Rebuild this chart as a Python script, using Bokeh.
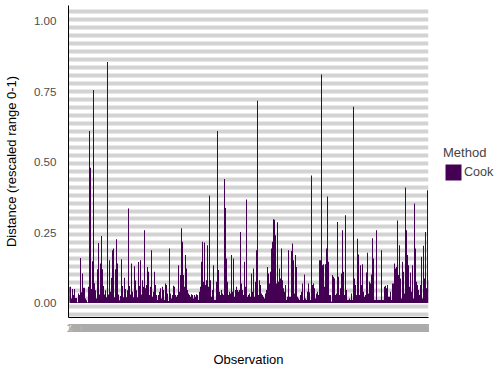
from bokeh.plotting import figure
from bokeh.layouts import row
from bokeh.models import (Range1d, FixedTicker, Legend, LegendItem,
                          ColumnDataSource, NumeralTickFormatter)
from bokeh.embed import file_html
from bokeh.resources import INLINE

# Cook's distance, rescaled to 0-1, one value per observation
cook_distance = [
    0.058, 0.058, 0.016, 0.05, 0.028, 0.05, 0.018, 0.018, 0.003, 0.034,
    0.028, 0.16, 0.038, 0.105, 0.054, 0.054, 0.016, 0.01, 0.003, 0.058,
    0.61, 0.48, 0.05, 0.148, 0.755, 0.07, 0.045, 0.016, 0.12, 0.213,
    0.03, 0.14, 0.238, 0.12, 0.06, 0.03, 0.045, 0.02, 0.855, 0.03,
    0.152, 0.04, 0.09, 0.187, 0.193, 0.02, 0.12, 0.226, 0.14, 0.03,
    0.01, 0.025, 0.155, 0.06, 0.02, 0.09, 0.05, 0.02, 0.045, 0.335,
    0.06, 0.03, 0.14, 0.04, 0.02, 0.13, 0.08, 0.045, 0.02, 0.145,
    0.06, 0.152, 0.03,
    0.081, 0.058, 0.258, 0.052, 0.064, 0.128, 0.111, 0.028, 0.058, 0.187,
    0.022, 0.040, 0.111, 0.064, 0.028, 0.011, 0.028, 0.040, 0.052, 0.016,
    0.058, 0.046, 0.011, 0.069, 0.064, 0.034, 0.007, 0.193, 0.034, 0.016,
    0.028, 0.061, 0.058, 0.028, 0.022, 0.028, 0.134, 0.040, 0.099, 0.265,
    0.217, 0.099, 0.058, 0.170, 0.122, 0.046, 0.034, 0.028, 0.022, 0.031,
    0.028, 0.016, 0.028, 0.022, 0.031, 0.028, 0.011, 0.040, 0.058, 0.146,
    0.217, 0.075, 0.215, 0.064, 0.081, 0.205, 0.058, 0.381, 0.081, 0.022,
    0.046,
    0.134, 0.011, 0.011, 0.075, 0.61, 0.117, 0.040, 0.028, 0.046, 0.034,
    0.028, 0.44, 0.337, 0.158, 0.075, 0.028, 0.040, 0.034, 0.170, 0.040,
    0.158, 0.022, 0.046, 0.058, 0.046, 0.040, 0.046, 0.252, 0.069, 0.046,
    0.028, 0.146, 0.058, 0.367, 0.022, 0.028, 0.034, 0.022, 0.105, 0.040,
    0.122, 0.022, 0.075, 0.187, 0.717, 0.028, 0.081, 0.064, 0.034, 0.028,
    0.022, 0.016, 0.034, 0.046, 0.128, 0.105, 0.069, 0.111, 0.193, 0.217,
    0.297, 0.295, 0.240, 0.069, 0.286, 0.075, 0.122, 0.087, 0.193, 0.081,
    0.052, 0.040,
    0.064, 0.011, 0.022, 0.187, 0.022, 0.022, 0.184, 0.211, 0.152, 0.034,
    0.170, 0.128, 0.022, 0.016, 0.011, 0.028, 0.040, 0.069, 0.011, 0.101,
    0.016, 0.011, 0.040, 0.069, 0.038, 0.011, 0.452, 0.064, 0.069, 0.052,
    0.016, 0.034, 0.040, 0.028, 0.152, 0.152, 0.81, 0.134, 0.137, 0.058,
    0.137, 0.193, 0.378, 0.146, 0.028, 0.028, 0.005, 0.099, 0.093, 0.087,
    0.028, 0.034, 0.287, 0.093, 0.028, 0.052, 0.105, 0.258, 0.111, 0.028,
    0.311, 0.046, 0.011, 0.011, 0.016, 0.011, 0.034, 0.011, 0.696, 0.087,
    0.064, 0.028,
    0.228, 0.172, 0.028, 0.134, 0.064, 0.137, 0.040, 0.022, 0.028, 0.108,
    0.178, 0.034, 0.075, 0.069, 0.101, 0.23, 0.158, 0.011, 0.011, 0.258,
    0.011, 0.011, 0.011, 0.011, 0.187, 0.011, 0.011, 0.058, 0.061, 0.052,
    0.064, 0.022, 0.022, 0.040, 0.011, 0.069, 0.069, 0.140, 0.122, 0.128,
    0.293, 0.099, 0.205, 0.087, 0.016, 0.146, 0.111, 0.034, 0.41, 0.258,
    0.170, 0.134, 0.058, 0.108, 0.040, 0.134, 0.016, 0.353, 0.193, 0.075,
    0.064, 0.046, 0.028, 0.064, 0.164, 0.016, 0.203, 0.087, 0.252, 0.052,
    0.40, 0.081,
]
observation = list(range(1, len(cook_distance) + 1))
y_ticks = [0, 0.25, 0.5, 0.75, 1.0]
method_name = "Cook"
legend_title = "Method"
x_title = "Observation"
y_title = "Distance (rescaled range 0-1)"

FONT = "Liberation Sans"
BAR = "#440154"

p = figure(frame_width=360, frame_height=312,
           output_backend="svg", toolbar_location=None,
           x_range=Range1d(0, len(cook_distance)),
           y_range=Range1d(-0.0514, 1.055),
           min_border_left=68, min_border_right=1,
           min_border_top=5, min_border_bottom=57)
p.outline_line_color = None
p.background_fill_color = "white"

# striped horizontal background bands
stripe_centers = [1.0337 - 0.0283 * k for k in range(39)]
p.xgrid.visible = False
p.ygrid.ticker = FixedTicker(ticks=stripe_centers)
p.ygrid.grid_line_color = "#D3D3D3"
p.ygrid.grid_line_width = 4

# one bar per observation, drawn as a single stepped area (no seams)
src = ColumnDataSource(dict(x=observation, top=cook_distance,
                            base=[0] * len(cook_distance)))
p.varea_step(x="x", y1="base", y2="top", step_mode="center", source=src,
             fill_color=BAR, fill_alpha=1.0)

# y axis
ya = p.yaxis[0]
ya.ticker = FixedTicker(ticks=y_ticks)
ya.formatter = NumeralTickFormatter(format="0.00")
ya.axis_line_color = "black"
ya.axis_line_width = 1
ya.major_tick_line_color = None
ya.minor_tick_line_color = None
ya.major_label_standoff = 6
ya.major_label_text_font = FONT
ya.major_label_text_font_size = "11.6px"
ya.major_label_text_color = "#4D4D4D"
ya.axis_label = y_title
ya.axis_label_text_font = FONT
ya.axis_label_text_font_size = "13px"
ya.axis_label_text_font_style = "normal"
ya.axis_label_text_color = "black"
ya.axis_label_standoff = 12

# x axis
xa = p.xaxis[0]
xa.ticker = FixedTicker(ticks=observation)
xa.axis_line_color = "black"
xa.axis_line_width = 1
xa.major_tick_line_color = None
xa.minor_tick_line_color = None
xa.major_label_standoff = 0
xa.major_label_text_font = FONT
xa.major_label_text_font_size = "11.6px"
xa.major_label_text_color = "#ABABAB"
xa.axis_label = x_title
xa.axis_label_text_font = FONT
xa.axis_label_text_font_size = "13px"
xa.axis_label_text_font_style = "normal"
xa.axis_label_text_color = "black"
xa.axis_label_standoff = 17

# legend panel to the right of the plot; its key renderer lies outside
# this panel's ranges, so only the legend swatch shows
pl = figure(width=75, height=374, output_backend="svg", toolbar_location=None,
            x_range=Range1d(-2, -1), y_range=Range1d(-2, -1),
            x_axis_location=None, y_axis_location=None,
            min_border_left=0, min_border_right=0,
            min_border_top=0, min_border_bottom=0)
pl.outline_line_color = None
pl.xgrid.visible = False
pl.ygrid.visible = False
key = pl.vbar(x="x", top="top", width=1.0, source=src,
              fill_color=BAR, line_color=None)

legend = Legend(items=[LegendItem(label=method_name, renderers=[key])],
                title=legend_title, location=(14, 135),
                background_fill_alpha=0, border_line_color=None,
                padding=0, margin=0, spacing=0,
                glyph_width=20, glyph_height=20, label_standoff=1,
                title_standoff=2,
                label_text_font=FONT, label_text_font_size="12.6px",
                title_text_font=FONT, title_text_font_size="13px",
                title_text_font_style="normal")
pl.add_layout(legend)

layout = row(p, pl, spacing=0)
open("out.html", "w").write(file_html(layout, INLINE))
